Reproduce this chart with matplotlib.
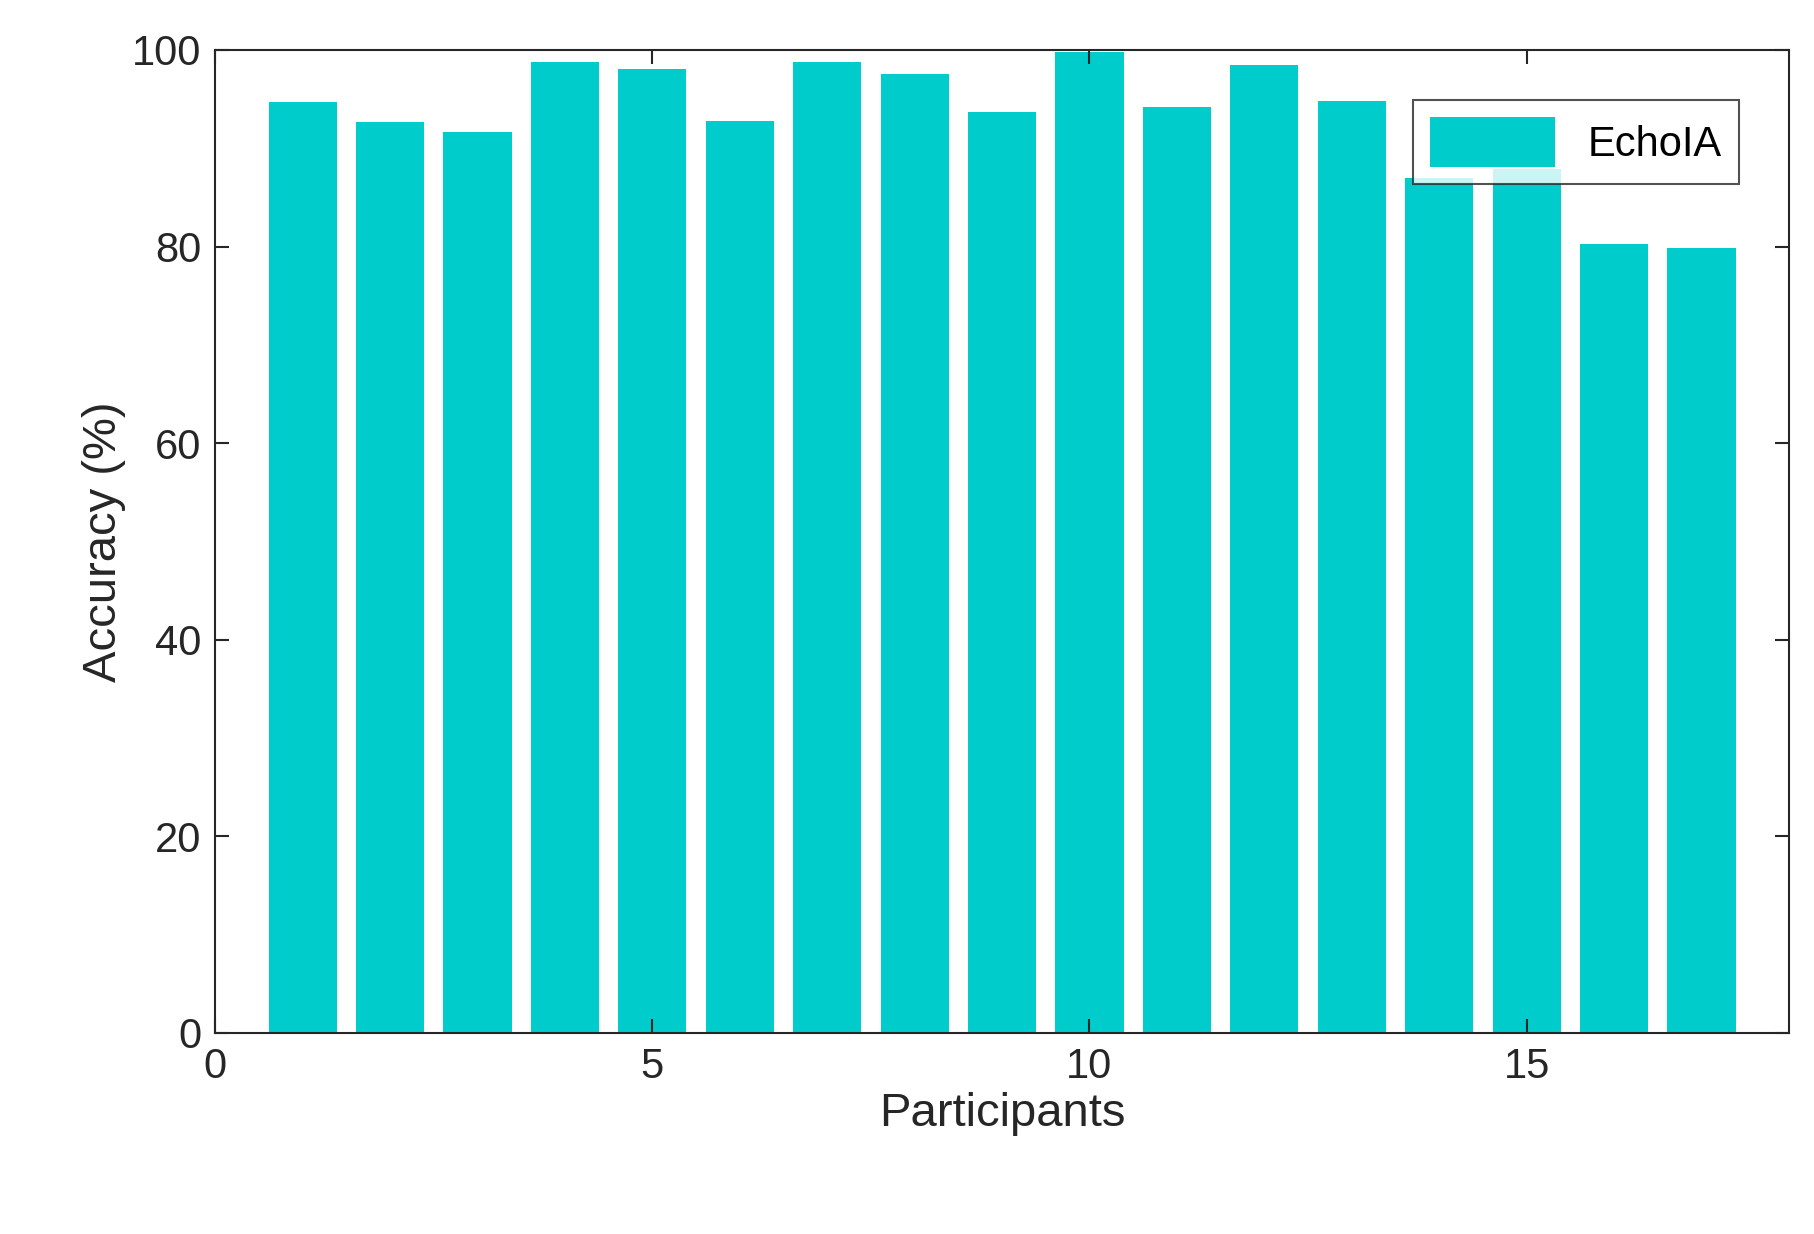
import matplotlib
matplotlib.use("Agg")
import matplotlib.pyplot as plt

participants = list(range(1, 18))
accuracy = [94.7, 92.7, 91.7, 98.8, 98.1, 92.8, 98.8, 97.6, 93.7, 99.8, 94.2, 98.5, 94.8, 87.0, 87.9, 80.3, 79.9]

plt.rcParams['font.family'] = ['Liberation Sans', 'DejaVu Sans']
fig = plt.figure(figsize=(18.15, 12.34), dpi=100)
ax = fig.add_axes([0.1186, 0.163, 0.867, 0.7965])
ax.bar(participants, accuracy, width=0.78, color='#00CCCC', label='EchoIA')
ax.set_xlim(0, 18)
ax.set_ylim(0, 100)
ax.set_xticks([0, 5, 10, 15])
ax.set_yticks([0, 20, 40, 60, 80, 100])
ax.tick_params(direction='in', top=True, right=True, labelsize=30, length=10, width=1.5, colors='#262626', pad=10)
for s in ax.spines.values():
    s.set_linewidth(1.5)
    s.set_color('#262626')
ax.set_xlabel('Participants', fontsize=34, color='#262626')
ax.set_ylabel('Accuracy (%)', fontsize=34, color='#262626')
leg = ax.legend(loc='upper right', fontsize=30, fancybox=False, edgecolor='#262626',
                handlelength=3, handleheight=1.5, borderaxespad=1.2)
leg.get_frame().set_linewidth(1.5)
fig.savefig('out.png', dpi=100)
